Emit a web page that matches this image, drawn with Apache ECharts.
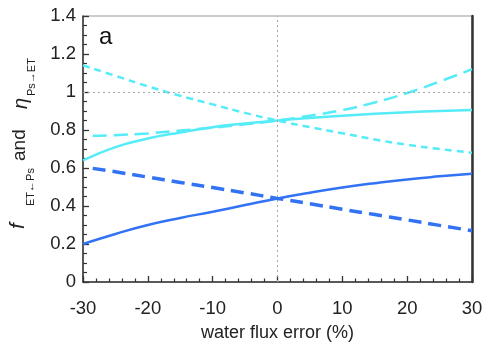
<!DOCTYPE html>
<html>
<head>
<meta charset="utf-8">
<script src="https://cdn.jsdelivr.net/npm/echarts@6/dist/echarts.min.js"></script>
<style>html,body{margin:0;padding:0;background:#fff}#c{width:486px;height:349px}</style>
</head>
<body>
<div id="c"></div>
<script>
// x values (water flux error, %)
var xFull = [-30, -25, -20, -15, -10, -5, 0, 5, 10, 15, 20, 25, 30];
var xShort = [-28.5, -25, -20, -15, -10, -5, 0, 5, 10, 15, 20, 25, 30];
// dark blue solid
var fSolid = [0.20, 0.253, 0.300, 0.337, 0.370, 0.405, 0.440, 0.470, 0.497, 0.520, 0.540, 0.556, 0.570];
// dark blue dashed
var fDashed = [0.598, 0.580, 0.552, 0.524, 0.497, 0.469, 0.440, 0.412, 0.383, 0.355, 0.327, 0.298, 0.270];
// cyan solid
var etaSolid = [0.640, 0.710, 0.755, 0.787, 0.815, 0.834, 0.850, 0.863, 0.875, 0.885, 0.893, 0.900, 0.905];
// cyan long dashed
var etaDashed = [0.770, 0.773, 0.782, 0.797, 0.812, 0.830, 0.850, 0.875, 0.905, 0.945, 0.995, 1.055, 1.120];
// cyan short dashed
var etaDotted = [1.140, 1.085, 1.030, 0.980, 0.935, 0.890, 0.850, 0.815, 0.783, 0.750, 0.722, 0.700, 0.680];

var DARK = '#3272f4';
var CYAN = '#55ecf8';
var FONT = 'Liberation Sans, Arial, sans-serif';

function pairs(xs, ys) { return xs.map(function (x, i) { return [x, ys[i]]; }); }

var chart = echarts.init(document.getElementById('c'), null, {renderer: 'canvas'});
var option = {
  animation: false,
  backgroundColor: '#fff',
  grid: {left: 83, right: 14, top: 16, bottom: 67, show: true, borderColor: '#999', borderWidth: 1},
  xAxis: {
    type: 'value', min: -30, max: 30, interval: 10,
    name: 'water flux error (%)', nameLocation: 'middle', nameGap: 42,
    nameTextStyle: {fontFamily: FONT, fontSize: 18, color: '#222'},
    axisLine: {show: true, onZero: false, lineStyle: {color: '#333', width: 1.5}},
    axisTick: {show: true, inside: true, length: 6, lineStyle: {color: '#333', width: 1.3}},
    minorTick: {show: true, splitNumber: 5, length: 3.5, lineStyle: {color: '#333', width: 1.2}},
    splitLine: {show: false},
    axisLabel: {fontFamily: FONT, fontSize: 18.5, color: '#222', margin: 17}
  },
  yAxis: [{
    type: 'value', min: 0, max: 1.4, interval: 0.2,
    axisLine: {show: true, onZero: false, lineStyle: {color: '#333', width: 1.5}},
    axisTick: {show: true, inside: true, length: 6, lineStyle: {color: '#333', width: 1.3}},
    minorTick: {show: true, splitNumber: 4, length: 4, lineStyle: {color: '#333', width: 1.2}},
    splitLine: {show: false},
    axisLabel: {fontFamily: FONT, fontSize: 18.5, color: '#222', margin: 7,
      formatter: function (v) { return String(Math.round(v * 10) / 10); }}
  }, {
    type: 'value', min: 0, max: 1.4, position: 'right',
    axisLine: {show: true, onZero: false, lineStyle: {color: '#333', width: 2.5}},
    axisTick: {show: false}, minorTick: {show: false}, axisLabel: {show: false}, splitLine: {show: false}
  }],
  series: [
    {type: 'line', data: pairs(xFull, fSolid), smooth: true, showSymbol: false,
     lineStyle: {color: DARK, width: 2.5},
     markLine: {silent: true, symbol: 'none', label: {show: false},
       lineStyle: {color: '#a8a8a8', type: [2, 3], width: 1},
       data: [{xAxis: 0}, {yAxis: 1}]}},
    {type: 'line', data: pairs(xShort, fDashed), smooth: true, showSymbol: false,
     lineStyle: {color: DARK, width: 3.5, type: [13, 7]}},
    {type: 'line', data: pairs(xFull, etaSolid), smooth: true, showSymbol: false,
     lineStyle: {color: CYAN, width: 2.5}},
    {type: 'line', data: pairs(xShort, etaDashed), smooth: true, showSymbol: false,
     lineStyle: {color: CYAN, width: 2.5, type: [14, 7]}},
    {type: 'line', data: pairs(xFull, etaDotted), smooth: true, showSymbol: false,
     lineStyle: {color: CYAN, width: 2.5, type: [7, 5]}}
  ],
  graphic: [
    {type: 'text', left: 99, top: 25, style: {text: 'a', font: '24px ' + FONT, fill: '#111'}},
    {type: 'text', x: 18, y: 229, rotation: Math.PI / 2,
     style: {text: 'f', font: 'italic 21px ' + FONT, fill: '#222', align: 'left', verticalAlign: 'middle'}},
    {type: 'text', x: 31, y: 206, rotation: Math.PI / 2,
     style: {text: 'ET\u2190Ps', font: '11px ' + FONT, fill: '#222', align: 'left', verticalAlign: 'middle'}},
    {type: 'text', x: 20, y: 161, rotation: Math.PI / 2,
     style: {text: 'and', font: '19px ' + FONT, fill: '#222', align: 'left', verticalAlign: 'middle'}},
    {type: 'text', x: 21, y: 109, rotation: Math.PI / 2,
     style: {text: '\u03B7', font: 'italic 20px ' + FONT, fill: '#222', align: 'left', verticalAlign: 'middle'}},
    {type: 'text', x: 32, y: 96, rotation: Math.PI / 2,
     style: {text: 'Ps\u2192ET', font: '11px ' + FONT, fill: '#222', align: 'left', verticalAlign: 'middle'}}
  ]
};
chart.setOption(option);
</script>
</body>
</html>
